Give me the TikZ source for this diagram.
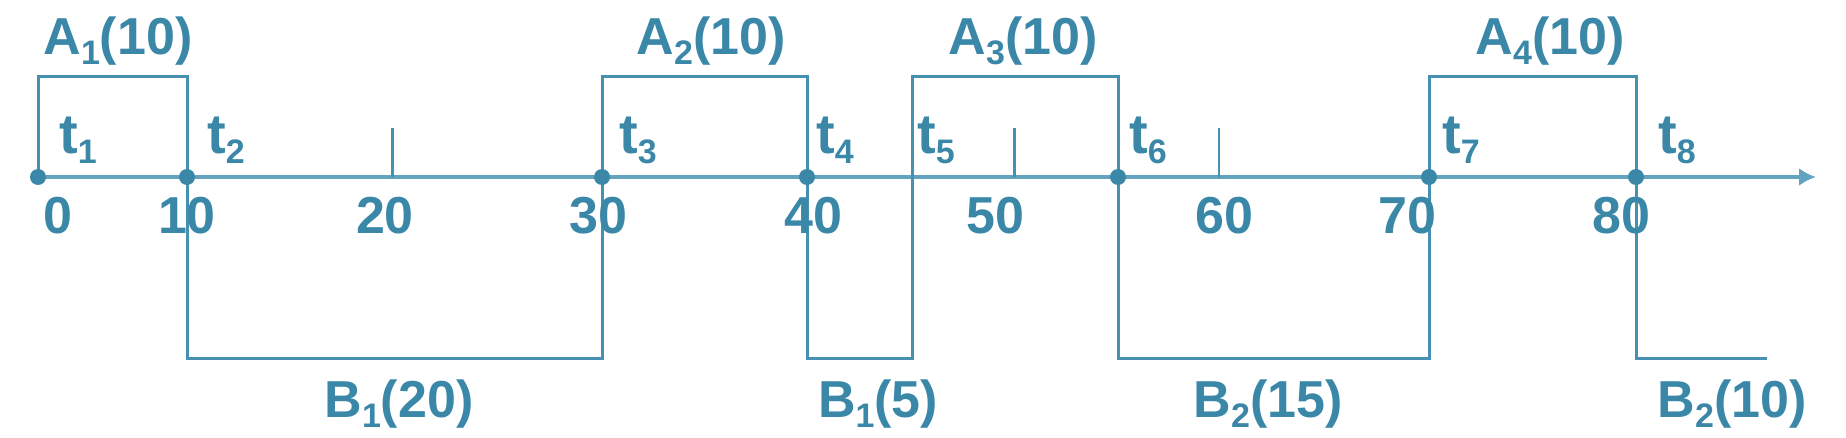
\documentclass[tikz,border=0pt]{standalone}
\usepackage{fontspec}
\setmainfont{Liberation Sans}
\usetikzlibrary{arrows.meta}
\definecolor{txt}{RGB}{58,135,168}
\definecolor{ln}{RGB}{70,145,178}
\definecolor{ax}{RGB}{100,163,192}
\newcommand\sbx[1]{\raisebox{-10pt}{\fontsize{34}{34}\selectfont #1}}
\tikzset{
  lab/.style={anchor=base, text=txt, inner sep=0pt, font=\bfseries\fontsize{52}{52}\selectfont},
  num/.style={anchor=base, text=txt, inner sep=0pt, font=\bfseries\fontsize{52}{52}\selectfont},
  tlab/.style={anchor=base west, text=txt, inner sep=0pt, font=\bfseries\fontsize{56}{56}\selectfont},
  wave/.style={draw=ln, line width=3pt, line join=miter},
  axis/.style={draw=ax, line width=3.6pt},
  tick/.style={draw=ln, line width=2.6pt},
  dot/.style={circle, fill=txt, inner sep=0pt, minimum size=16pt},
}
\begin{document}
\begin{tikzpicture}[x=1pt, y=-1pt]
\useasboundingbox (0,0) rectangle (1846,438);
% levels
\coordinate (top) at (0,77);
\coordinate (bot) at (0,358);
% axis points
\coordinate (p0) at (38,177);
\coordinate (p10) at (187,177);
\coordinate (p20) at (392.5,177);
\coordinate (p30) at (602,177);
\coordinate (p40) at (807,177);
\coordinate (p45) at (912,177);
\coordinate (p50) at (1014.5,177);
\coordinate (p55) at (1118,177);
\coordinate (p60) at (1219,177);
\coordinate (p70) at (1429,177);
\coordinate (p80) at (1636,177);
\coordinate (bend) at (1767,358);
\coordinate (aend) at (1816,177);
% axis
\draw[axis, -{Latex[length=17pt,width=18pt]}] (p0) -- (aend);
% ticks
\draw[tick] (p20) -- ++(0,-49);
\draw[tick] (p50) -- ++(0,-49);
\draw[tick] (p60) -- ++(0,-49);
% waveform
\draw[wave] (p0) -- (p0|-top) -- (p10|-top) -- (p10|-bot) -- (p30|-bot)
  -- (p30|-top) -- (p40|-top) -- (p40|-bot) -- (p45|-bot) -- (p45|-top)
  -- (p55|-top) -- (p55|-bot) -- (p70|-bot) -- (p70|-top) -- (p80|-top)
  -- (p80|-bot) -- (bend);
% dots
\node[dot] (d0) at (p0) {};
\node[dot] (d10) at (p10) {};
\node[dot] (d30) at (p30) {};
\node[dot] (d40) at (p40) {};
\node[dot] (d55) at (p55) {};
\node[dot] (d70) at (p70) {};
\node[dot] (d80) at (p80) {};
% A labels
\node[lab] (a1) at (118,55) {A\sbx{1}(10)};
\node[lab] (a2) at (711,55) {A\sbx{2}(10)};
\node[lab] (a3) at (1023,55) {A\sbx{3}(10)};
\node[lab] (a4) at (1550,55) {A\sbx{4}(10)};
% B labels
\node[lab] (b1) at (399,417) {B\sbx{1}(20)};
\node[lab] (b2) at (878,417) {B\sbx{1}(5)};
\node[lab] (b3) at (1268,417) {B\sbx{2}(15)};
\node[lab] (b4) at (1732,417) {B\sbx{2}(10)};
% t labels
\node[tlab] (t1) at (59,154) {t\sbx{1}};
\node[tlab] (t2) at (207,154) {t\sbx{2}};
\node[tlab] (t3) at (619,154) {t\sbx{3}};
\node[tlab] (t4) at (816,154) {t\sbx{4}};
\node[tlab] (t5) at (917,154) {t\sbx{5}};
\node[tlab] (t6) at (1129,154) {t\sbx{6}};
\node[tlab] (t7) at (1442,154) {t\sbx{7}};
\node[tlab] (t8) at (1658,154) {t\sbx{8}};
% numbers
\node[num] (n0) at (58,234) {0};
\node[num] (n10) at (187,234) {10};
\node[num] (n20) at (385,234) {20};
\node[num] (n30) at (598,234) {30};
\node[num] (n40) at (813,234) {40};
\node[num] (n50) at (995,234) {50};
\node[num] (n60) at (1224,234) {60};
\node[num] (n70) at (1407,234) {70};
\node[num] (n80) at (1621,234) {80};
\end{tikzpicture}
\end{document}
